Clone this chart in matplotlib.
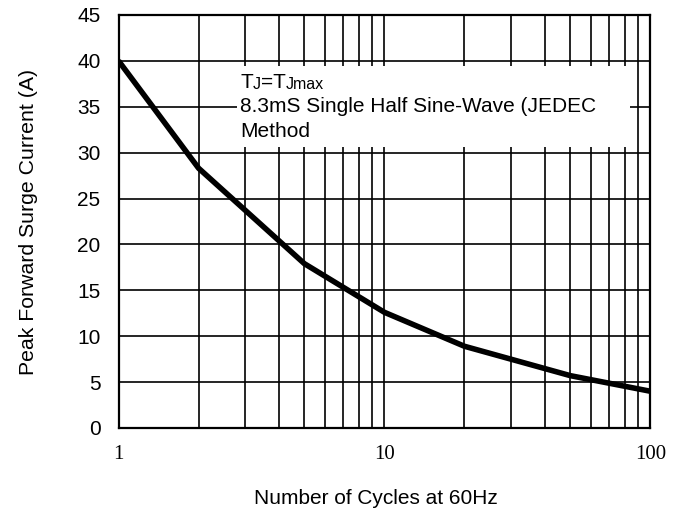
import matplotlib
matplotlib.use('Agg')
import matplotlib.pyplot as plt
from matplotlib.patches import Rectangle
from matplotlib.ticker import LogLocator, NullFormatter, FixedLocator

# surge current vs number of cycles
cycles = [1, 2, 5, 10, 20, 50, 100]
current = [40.0, 28.3, 17.9, 12.6, 8.9, 5.7, 4.0]

y_ticks = [0, 5, 10, 15, 20, 25, 30, 35, 40, 45]
x_ticks = [1, 10, 100]
x_tick_labels = ['1', '10', '100']

plt.rcParams['font.family'] = 'Liberation Sans'

fig = plt.figure(figsize=(6.82, 5.15), dpi=100)
ax = fig.add_axes([0.1738, 0.169, 0.7798, 0.802])

ax.set_xscale('log')
ax.set_xlim(1, 100)
ax.set_ylim(0, 45)

ax.xaxis.set_major_locator(FixedLocator(x_ticks))
ax.set_xticklabels(x_tick_labels, fontfamily='Liberation Serif', fontsize=15)
ax.xaxis.set_minor_locator(LogLocator(base=10, subs=range(2, 10)))
ax.xaxis.set_minor_formatter(NullFormatter())
ax.set_yticks(y_ticks)
ax.set_yticklabels([str(v) for v in y_ticks], fontsize=15)

ax.tick_params(which='both', length=0)
ax.tick_params(axis='y', pad=13)
ax.tick_params(axis='x', pad=12)

ax.grid(True, which='both', color='black', linewidth=1.2)
ax.set_axisbelow(True)
for s in ax.spines.values():
    s.set_linewidth(1.6)

ax.plot(cycles, current, color='black', linewidth=4, solid_capstyle='butt', zorder=4)

# white box behind the note
ax.add_patch(Rectangle((0.223, 0.680), 0.739, 0.196, transform=ax.transAxes,
                       facecolor='white', edgecolor='none', zorder=2))

big = 15
small = 11.5
t1 = ax.text(0.2286, 0.823, 'T', transform=ax.transAxes, fontsize=big,
             va='baseline', ha='left', zorder=5)
a1 = ax.annotate('J', xy=(1, 0), xycoords=t1, fontsize=small, va='bottom', ha='left', zorder=5)
a2 = ax.annotate('=T', xy=(1, 0), xycoords=a1, fontsize=big, va='bottom', ha='left', zorder=5)
ax.annotate('Jmax', xy=(1, 0), xycoords=a2, fontsize=small, va='bottom', ha='left', zorder=5)
ax.text(0.2286, 0.765, '8.3mS Single Half Sine-Wave (JEDEC', transform=ax.transAxes,
        fontsize=big, va='baseline', ha='left', zorder=5)
ax.text(0.2286, 0.705, 'Method', transform=ax.transAxes,
        fontsize=big, va='baseline', ha='left', zorder=5)

ax.set_xlabel('Number of Cycles at 60Hz', fontsize=15, va='top')
ax.xaxis.set_label_coords(0.483, -0.147)
ax.set_ylabel('Peak Forward Surge Current (A)', fontsize=15.3, labelpad=28)

fig.savefig('out.png', dpi=100)
